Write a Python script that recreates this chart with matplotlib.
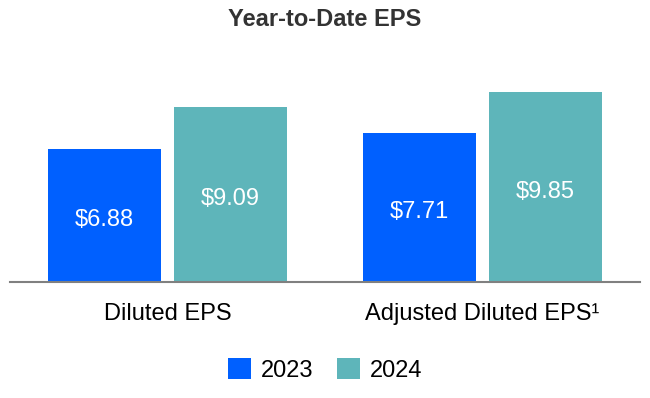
import matplotlib

matplotlib.use("Agg")
import matplotlib.pyplot as plt
import numpy as np

categories = ["Diluted EPS", "Adjusted Diluted EPS\u00b9"]
years = ["2023", "2024"]
eps_2023 = [6.88, 7.71]
eps_2024 = [9.09, 9.85]

colors = ["#0060FF", "#5EB5BA"]

plt.rcParams["font.family"] = ["Liberation Sans", "DejaVu Sans"]

fig = plt.figure(figsize=(6.5, 3.98), dpi=100)
ax = fig.add_axes([10 / 650, 1 - 282 / 398, 630 / 650, 222 / 398])

x = np.arange(len(categories))
width = 0.358
offset = 0.2
for series, color, year, shift in zip([eps_2023, eps_2024], colors, years, [-offset, offset]):
    bars = ax.bar(x + shift, series, width=width, color=color, label=year)
    for rect, value in zip(bars, series):
        ax.text(rect.get_x() + rect.get_width() / 2, value / 2 - 0.25, f"${value:.2f}",
                ha="center", va="center", color="white", fontsize=17)

ax.set_xlim(-0.5, 1.5)
ax.set_ylim(0, 11.5)
ax.set_xticks(x)
ax.set_xticklabels(categories, fontsize=17)
ax.tick_params(axis="x", length=0, pad=15)
ax.set_yticks([])
for side in ["top", "right", "left"]:
    ax.spines[side].set_visible(False)
ax.spines["bottom"].set_color("#808080")
ax.spines["bottom"].set_linewidth(1.5)

fig.text(0.5, 1 - 20 / 398, "Year-to-Date EPS", ha="center", va="center",
         fontsize=17, fontweight="bold", color="#333333")

fig.legend(loc="center", bbox_to_anchor=(0.5, 1 - 370 / 398), ncol=2, frameon=False,
           fontsize=17, handlelength=1.0, handleheight=1.0, handletextpad=0.4,
           columnspacing=1.0)

fig.savefig("out.png", dpi=100)
